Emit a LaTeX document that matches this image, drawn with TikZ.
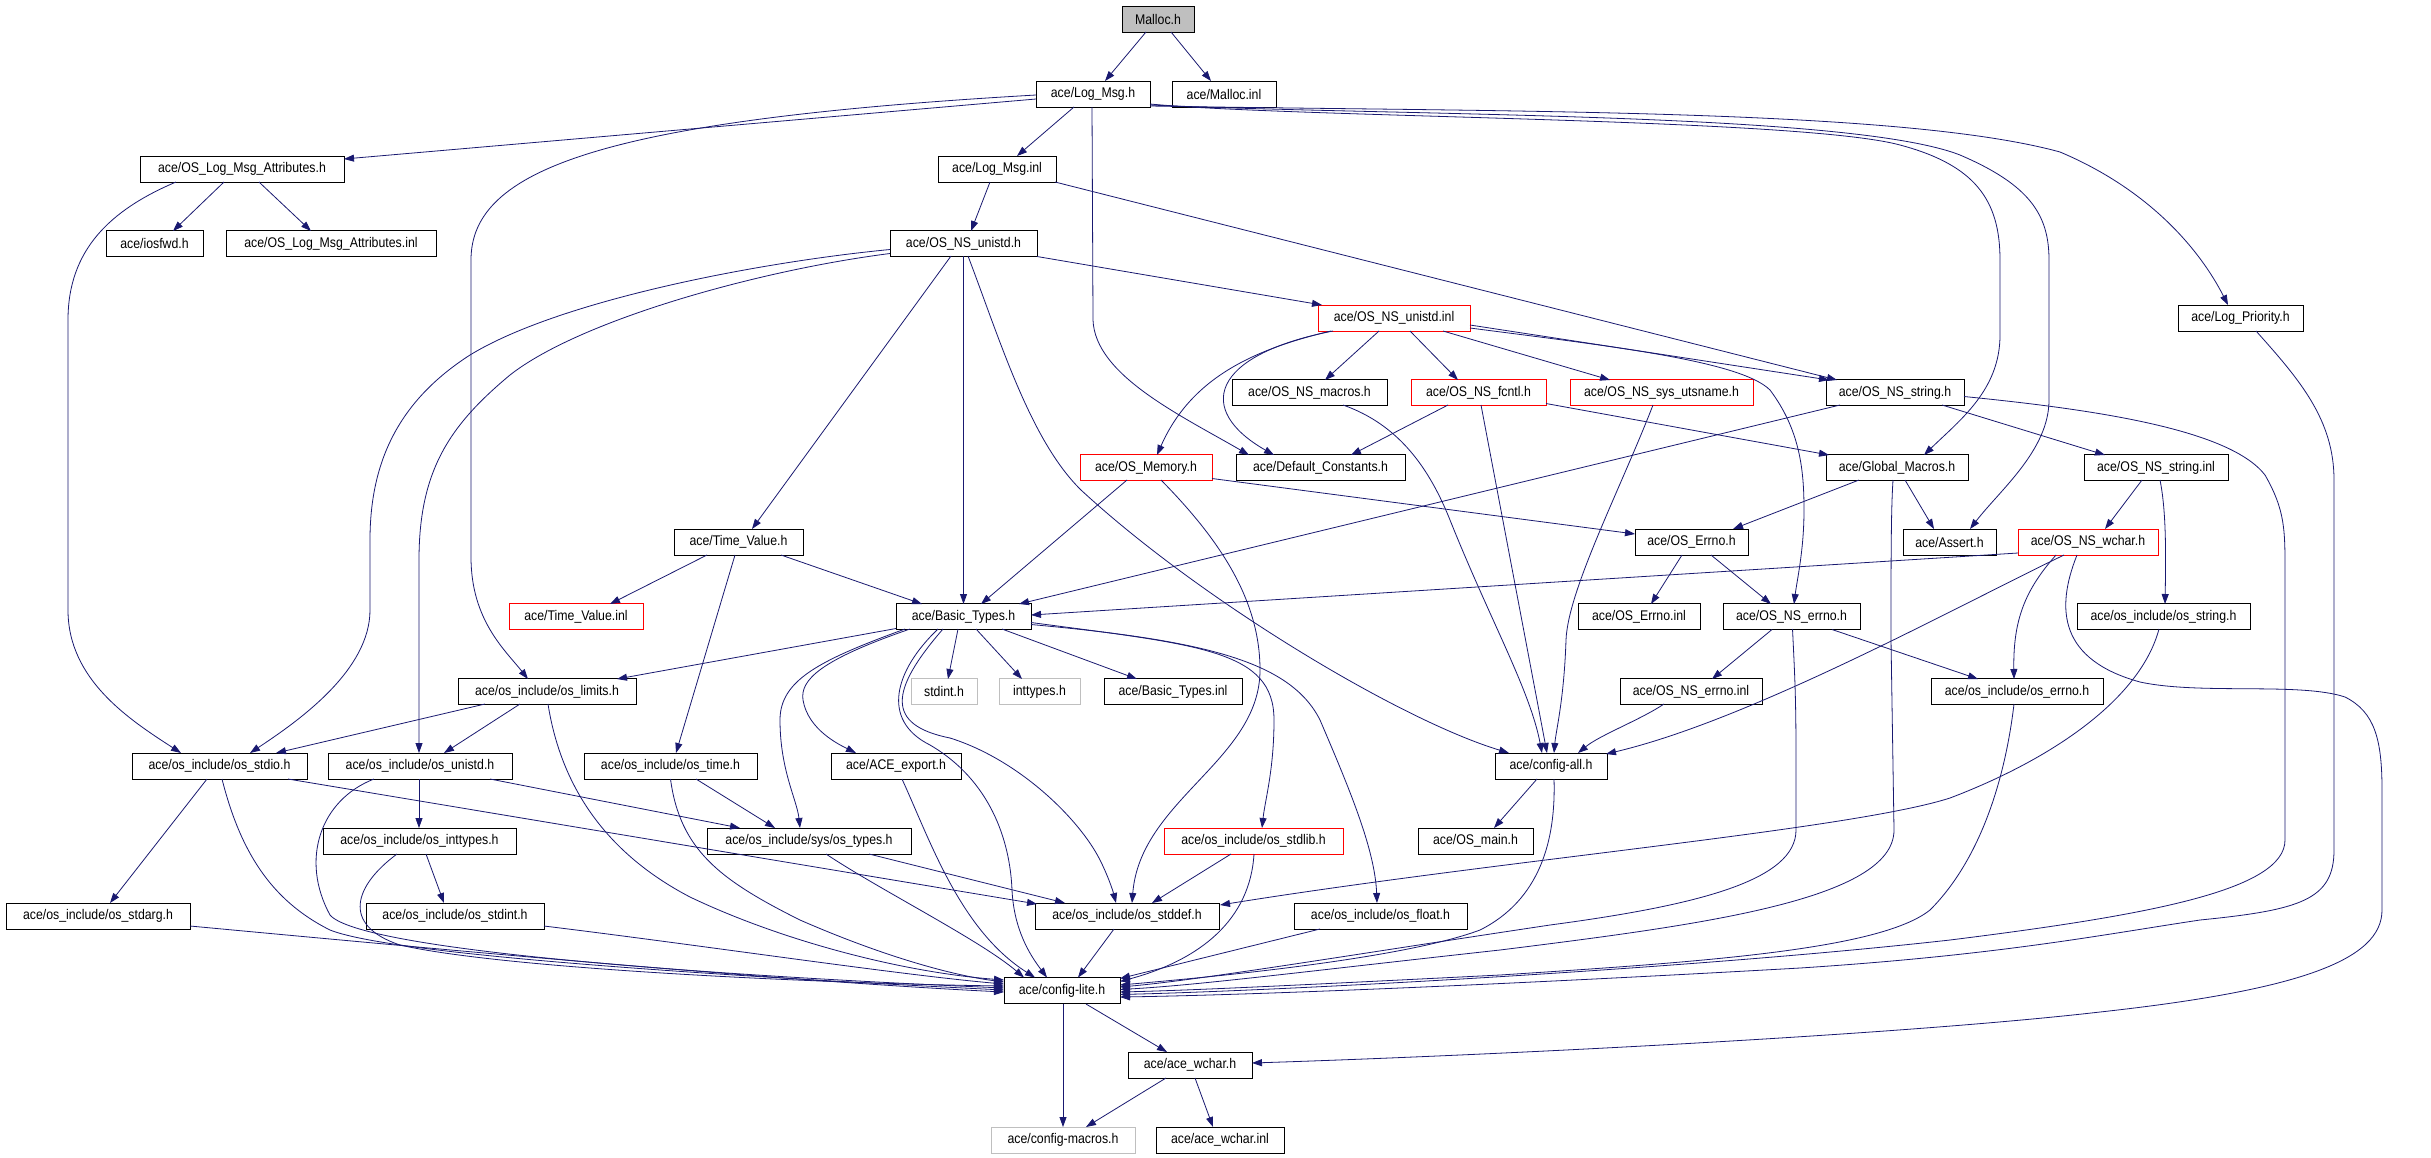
\documentclass[tikz,border=0pt]{standalone}
\usepackage{fontspec}
\setmainfont{Liberation Sans}[FakeStretch=0.88]
\usetikzlibrary{arrows.meta,calc}
\definecolor{edgecol}{HTML}{191970}
\definecolor{grayfill}{HTML}{BFBFBF}
\begin{document}
\begin{tikzpicture}[x=1pt,y=-1pt,
  box/.style={draw=black, line width=1pt, fill=white, inner sep=0pt, minimum height=26pt, font=\fontsize{14}{16}\selectfont},
  redbox/.style={box, draw=red},
  graybox/.style={box, draw=grayfill},
  rootbox/.style={box, fill=grayfill},
  edge/.style={draw=edgecol, line width=0.8pt, -{Triangle[length=10pt,width=7pt]}}]
\fill[white] (0,0) rectangle (2431,1157);
\useasboundingbox (0,0) rectangle (2431,1157);
% nodes
\node[rootbox, minimum width=72pt] (malloc) at (1158,19.5) {Malloc.h};
\node[box, minimum width=114pt] (logmsg) at (1093,94) {ace/Log\_Msg.h};
\node[box, minimum width=104pt] (mallocinl) at (1224,94) {ace/Malloc.inl};
\node[box, minimum width=204pt] (oslma) at (242,169) {ace/OS\_Log\_Msg\_Attributes.h};
\node[box, minimum width=118pt] (logmsginl) at (997,169) {ace/Log\_Msg.inl};
\node[box, minimum width=97pt] (iosfwd) at (154.5,243.5) {ace/iosfwd.h};
\node[box, minimum width=210pt] (oslmainl) at (331,243.5) {ace/OS\_Log\_Msg\_Attributes.inl};
\node[box, minimum width=147pt] (osnsunistd) at (963.5,243.5) {ace/OS\_NS\_unistd.h};
\node[redbox, minimum width=152pt] (osnsunistdinl) at (1394,318) {ace/OS\_NS\_unistd.inl};
\node[box, minimum width=125pt] (logprio) at (2240.5,318) {ace/Log\_Priority.h};
\node[box, minimum width=155pt] (osnsmacros) at (1309.5,392.5) {ace/OS\_NS\_macros.h};
\node[redbox, minimum width=135pt] (osnsfcntl) at (1478.5,392.5) {ace/OS\_NS\_fcntl.h};
\node[redbox, minimum width=183pt] (osnsutsname) at (1661.5,392.5) {ace/OS\_NS\_sys\_utsname.h};
\node[box, minimum width=138pt] (osnsstring) at (1895,392.5) {ace/OS\_NS\_string.h};
\node[redbox, minimum width=132pt] (osmemory) at (1146,467.5) {ace/OS\_Memory.h};
\node[box, minimum width=169pt] (defconst) at (1320.5,467.5) {ace/Default\_Constants.h};
\node[box, minimum width=142pt] (globalmacros) at (1897,467.5) {ace/Global\_Macros.h};
\node[box, minimum width=144pt] (osnsstringinl) at (2156,467.5) {ace/OS\_NS\_string.inl};
\node[box, minimum width=129pt] (timevalue) at (738.5,542) {ace/Time\_Value.h};
\node[box, minimum width=113pt] (oserrno) at (1691.5,542) {ace/OS\_Errno.h};
\node[box, minimum width=93pt] (assert) at (1949.5,542) {ace/Assert.h};
\node[redbox, minimum width=140pt] (osnswchar) at (2088,542) {ace/OS\_NS\_wchar.h};
\node[redbox, minimum width=134pt] (timevalueinl) at (576,616.5) {ace/Time\_Value.inl};
\node[box, minimum width=135pt] (basictypes) at (963.5,616.5) {ace/Basic\_Types.h};
\node[box, minimum width=122pt] (oserrnoinl) at (1639,616.5) {ace/OS\_Errno.inl};
\node[box, minimum width=137pt] (osnserrno) at (1791.5,616.5) {ace/OS\_NS\_errno.h};
\node[box, minimum width=173pt] (osstring) at (2163.5,616.5) {ace/os\_include/os\_string.h};
\node[box, minimum width=178pt] (oslimits) at (547,691.5) {ace/os\_include/os\_limits.h};
\node[graybox, minimum width=66pt] (stdint) at (944,691.5) {stdint.h};
\node[graybox, minimum width=81pt] (inttypes) at (1039.5,691.5) {inttypes.h};
\node[box, minimum width=138pt] (basictypesinl) at (1173,691.5) {ace/Basic\_Types.inl};
\node[box, minimum width=142pt] (osnserrnoinl) at (1691,691.5) {ace/OS\_NS\_errno.inl};
\node[box, minimum width=172pt] (oserrnoh) at (2017,691.5) {ace/os\_include/os\_errno.h};
\node[box, minimum width=175pt] (osstdio) at (219.5,766) {ace/os\_include/os\_stdio.h};
\node[box, minimum width=184pt] (osunistd) at (420,766) {ace/os\_include/os\_unistd.h};
\node[box, minimum width=173pt] (ostime) at (670.5,766) {ace/os\_include/os\_time.h};
\node[box, minimum width=130pt] (aceexport) at (896,766) {ace/ACE\_export.h};
\node[box, minimum width=112pt] (configall) at (1551,766) {ace/config-all.h};
\node[box, minimum width=193pt] (osinttypes) at (419.5,841) {ace/os\_include/os\_inttypes.h};
\node[box, minimum width=204pt] (ostypes) at (809,841) {ace/os\_include/sys/os\_types.h};
\node[redbox, minimum width=179pt] (osstdlib) at (1253.5,841) {ace/os\_include/os\_stdlib.h};
\node[box, minimum width=115pt] (osmain) at (1475.5,841) {ace/OS\_main.h};
\node[box, minimum width=184pt] (osstdarg) at (98,916) {ace/os\_include/os\_stdarg.h};
\node[box, minimum width=178pt] (osstdint) at (455,916) {ace/os\_include/os\_stdint.h};
\node[box, minimum width=184pt] (osstddef) at (1127,916) {ace/os\_include/os\_stddef.h};
\node[box, minimum width=173pt] (osfloat) at (1380.5,916) {ace/os\_include/os\_float.h};
\node[box, minimum width=116pt] (configlite) at (1062,990.5) {ace/config-lite.h};
\node[box, minimum width=124pt] (acewchar) at (1190,1065) {ace/ace\_wchar.h};
\node[graybox, minimum width=144pt] (configmacros) at (1063,1140) {ace/config-macros.h};
\node[box, minimum width=128pt] (acewcharinl) at (1220,1140) {ace/ace\_wchar.inl};
% edges
\draw[edge] ($(malloc)+(-12,12.5)$) -- ($(logmsg)+(12,-13)$);
\draw[edge] ($(malloc)+(13,12.5)$) -- ($(mallocinl)+(-13,-13)$);
\draw[edge] ($(logmsg)+(-57,5)$) -- ($(oslma)+(102,-10)$);
\draw[edge] ($(logmsg)+(-19,13)$) -- ($(logmsginl)+(20,-13)$);
\draw[edge] ($(logmsg)+(-57,1)$) .. controls (600,120) and (471,170) .. (471,260) -- (471,557) .. controls (471,620) and (505,650) .. ($(oslimits)+(-19,-12.5)$);
\draw[edge] ($(logmsg)+(-1,13)$) -- (1093,320) .. controls (1095,375) and (1180,415) .. ($(defconst)+(-71.5,-12.5)$);
\draw[edge] ($(logmsg)+(57,10)$) .. controls (1300,118) and (1800,118) .. (1900,145) .. controls (1975,165) and (2000,200) .. (2000,260) -- (2000,335) .. controls (2000,390) and (1960,420) .. ($(globalmacros)+(27,-12.5)$);
\draw[edge] ($(logmsg)+(57,11)$) .. controls (1400,116) and (1850,112) .. (1960,155) .. controls (2030,185) and (2049,215) .. (2049,260) -- (2049,400) .. controls (2049,450) and (2000,490) .. ($(assert)+(20.5,-13)$);
\draw[edge] ($(logmsg)+(57,12)$) .. controls (1500,112) and (1900,108) .. (2060,152) .. controls (2150,190) and (2200,250) .. ($(logprio)+(-12.5,-13)$);
\draw[edge] ($(logmsginl)+(-7,13)$) -- ($(osnsunistd)+(7.5,-12.5)$);
\draw[edge] ($(logmsginl)+(58,13)$) -- ($(osnsstring)+(-58,-12.5)$);
\draw[edge] ($(osnsunistd)+(73.5,13)$) -- ($(osnsunistdinl)+(-72,-13)$);
\draw[edge] ($(osnsunistd)+(-73.5,6)$) .. controls (760,262) and (560,300) .. (470,355) .. controls (400,400) and (370,460) .. (370,540) -- (370,610) .. controls (370,670) and (300,720) .. ($(osstdio)+(30.5,-13)$);
\draw[edge] ($(osnsunistd)+(-73.5,10)$) .. controls (760,270) and (580,320) .. (510,375) .. controls (450,425) and (419,470) .. (419,560) -- ($(osunistd)+(-1,-13)$);
\draw[edge] ($(osnsunistd)+(-12.5,12.5)$) -- ($(timevalue)+(13.5,-13)$);
\draw[edge] ($(osnsunistd)+(0,12.5)$) -- ($(basictypes)+(0,-12.5)$);
\draw[edge] ($(osnsunistd)+(4.5,12.5)$) .. controls (1000,340) and (1030,440) .. (1081,490) .. controls (1200,600) and (1400,720) .. ($(configall)+(-42,-13)$);
\draw[edge] ($(osnsunistdinl)+(-63,13)$) .. controls (1250,350) and (1190,380) .. ($(osmemory)+(11,-12.5)$);
\draw[edge] ($(osnsunistdinl)+(-61,13)$) .. controls (1210,355) and (1195,410) .. ($(defconst)+(-46.5,-12.5)$);
\draw[edge] ($(osnsunistdinl)+(-15,13)$) -- ($(osnsmacros)+(15.5,-12.5)$);
\draw[edge] ($(osnsunistdinl)+(16,13)$) -- ($(osnsfcntl)+(-20.5,-12.5)$);
\draw[edge] ($(osnsunistdinl)+(49,13)$) -- ($(osnsutsname)+(-51.5,-12.5)$);
\draw[edge] ($(osnsunistdinl)+(76,7)$) -- ($(osnsstring)+(-66,-12.5)$);
\draw[edge] ($(osnsunistdinl)+(76,10)$) .. controls (1600,345) and (1740,360) .. (1770,390) .. controls (1800,430) and (1804,470) .. (1804,510) .. controls (1804,550) and (1797,580) .. ($(osnserrno)+(2.5,-12.5)$);
\draw[edge] ($(osnsfcntl)+(-30.5,12.5)$) -- ($(defconst)+(30.5,-12.5)$);
\draw[edge] ($(osnsfcntl)+(2.5,12.5)$) -- ($(configall)+(-4,-13)$);
\draw[edge] ($(osnsfcntl)+(67.5,11)$) -- ($(globalmacros)+(-68,-12.5)$);
\draw[edge] ($(osnsmacros)+(33.5,12.5)$) .. controls (1400,425) and (1430,470) .. (1450,520) .. controls (1490,620) and (1530,690) .. ($(configall)+(-9,-13)$);
\draw[edge] ($(osnsutsname)+(-8.5,12.5)$) .. controls (1620,490) and (1568,590) .. (1566,640) .. controls (1564,700) and (1556,730) .. ($(configall)+(3,-13)$);
\draw[edge] ($(osnsstring)+(-55,12.5)$) -- ($(basictypes)+(55.5,-12.5)$);
\draw[edge] ($(osnsstring)+(47,12.5)$) -- ($(osnsstringinl)+(-51,-12.5)$);
\draw[edge] ($(osnsstring)+(69,4)$) .. controls (2100,410) and (2230,430) .. (2265,475) .. controls (2285,510) and (2285,530) .. (2285,570) -- (2285,840) .. controls (2285,890) and (2150,915) .. (1950,940) .. controls (1700,968) and (1300,990) .. ($(configlite)+(58,4)$);
\draw[edge] ($(osmemory)+(-19,12.5)$) -- ($(basictypes)+(17.5,-12.5)$);
\draw[edge] ($(osmemory)+(15,12.5)$) .. controls (1220,540) and (1260,600) .. (1260,670) .. controls (1260,760) and (1140,800) .. ($(osstddef)+(5,-13)$);
\draw[edge] ($(osmemory)+(66,11)$) -- ($(oserrno)+(-56.5,-8)$);
\draw[edge] ($(globalmacros)+(-38,12.5)$) -- ($(oserrno)+(41.5,-13)$);
\draw[edge] ($(globalmacros)+(8,12.5)$) -- ($(assert)+(-15.5,-13)$);
\draw[edge] ($(globalmacros)+(-4,12.5)$) .. controls (1891,510) and (1891,560) .. (1891,640) -- (1894,830) .. controls (1894,900) and (1700,925) .. (1500,950) .. controls (1300,972) and (1200,985) .. ($(configlite)+(58,-1)$);
\draw[edge] ($(osnsstringinl)+(-14,12.5)$) -- ($(osnswchar)+(17,-13)$);
\draw[edge] ($(osnsstringinl)+(4,12.5)$) .. controls (2166,510) and (2166,550) .. ($(osstring)+(1.5,-12.5)$);
\draw[edge] ($(timevalue)+(-31.5,13)$) -- ($(timevalueinl)+(34,-12.5)$);
\draw[edge] ($(timevalue)+(-3.5,13)$) -- ($(ostime)+(5.5,-13)$);
\draw[edge] ($(timevalue)+(42.5,13)$) -- ($(basictypes)+(-41.5,-12.5)$);
\draw[edge] ($(oserrno)+(-9.5,13)$) -- ($(oserrnoinl)+(12,-12.5)$);
\draw[edge] ($(oserrno)+(19.5,13)$) -- ($(osnserrno)+(-20.5,-12.5)$);
\draw[edge] ($(osnswchar)+(-70,11)$) -- ($(basictypes)+(67.5,-1.5)$);
\draw[edge] ($(osnswchar)+(-24,13)$) .. controls (1950,610) and (1750,720) .. ($(configall)+(55,-12)$);
\draw[edge] ($(osnswchar)+(-32,13)$) .. controls (2025,590) and (2013,620) .. ($(oserrnoh)+(-3,-12.5)$);
\draw[edge] ($(osnswchar)+(-11,13)$) .. controls (2055,610) and (2060,660) .. (2140,682) .. controls (2200,695) and (2300,682) .. (2345,697) .. controls (2375,712) and (2382,740) .. (2382,790) -- (2382,910) .. controls (2382,960) and (2300,990) .. (2100,1012) .. controls (1900,1035) and (1500,1055) .. ($(acewchar)+(62,-2)$);
\draw[edge] ($(osstring)+(-4.5,12.5)$) .. controls (2140,700) and (2050,760) .. (1950,798) .. controls (1850,830) and (1500,860) .. ($(osstddef)+(93,-11)$);
\draw[edge] ($(osnserrno)+(-19.5,13)$) -- ($(osnserrnoinl)+(21,-12.5)$);
\draw[edge] ($(osnserrno)+(40.5,13)$) -- ($(oserrnoh)+(-39,-12.5)$);
\draw[edge] ($(osnserrno)+(1,12.5)$) .. controls (1795,680) and (1796,700) .. (1796,760) -- (1796,830) .. controls (1796,880) and (1700,905) .. (1550,925) .. controls (1350,955) and (1200,980) .. ($(configlite)+(58,-3.5)$);
\draw[edge] ($(osnserrnoinl)+(-27,12.5)$) .. controls (1640,720) and (1600,735) .. ($(configall)+(27,-13)$);
\draw[edge] ($(oserrnoh)+(-3,12.5)$) .. controls (2005,780) and (1980,860) .. (1930,910) .. controls (1880,950) and (1700,962) .. (1500,975) .. controls (1300,985) and (1200,990) .. ($(configlite)+(58,1.5)$);
\draw[edge] ($(logprio)+(15.5,13)$) .. controls (2300,380) and (2334,420) .. (2334,480) -- (2334,850) .. controls (2334,900) and (2300,910) .. (2200,920) .. controls (2100,935) and (2000,955) .. (1800,968) .. controls (1500,985) and (1250,995) .. ($(configlite)+(58,6.5)$);
\draw[edge] ($(configall)+(-14,13)$) -- ($(osmain)+(18.5,-13)$);
\draw[edge] ($(configall)+(3,13)$) .. controls (1556,840) and (1540,900) .. (1480,930) .. controls (1400,960) and (1200,978) .. ($(configlite)+(58,-5.5)$);
\draw[edge] ($(osstdlib)+(-22.5,13)$) -- ($(osstddef)+(25,-13)$);
\draw[edge] ($(osstdlib)+(0.5,13)$) .. controls (1250,920) and (1200,960) .. ($(configlite)+(58,-9)$);
\draw[edge] ($(osfloat)+(-60.5,13)$) -- ($(configlite)+(58,-12)$);
\draw[edge] ($(osstddef)+(-13,13)$) -- ($(configlite)+(16,-13)$);
\draw[edge] ($(ostypes)+(60,13)$) -- ($(osstddef)+(-62,-13)$);
\draw[edge] ($(ostypes)+(17,13)$) .. controls (880,890) and (980,940) .. ($(configlite)+(-38,-13)$);
\draw[edge] ($(aceexport)+(6,13)$) .. controls (930,840) and (960,930) .. ($(configlite)+(-27,-13)$);
\draw[edge] ($(basictypes)+(-67.5,12)$) -- ($(oslimits)+(70,-12.5)$);
\draw[edge] ($(basictypes)+(-5.5,12.5)$) -- ($(stdint)+(4,-12.5)$);
\draw[edge] ($(basictypes)+(12.5,12.5)$) -- ($(inttypes)+(-17.5,-12.5)$);
\draw[edge] ($(basictypes)+(38.5,12.5)$) -- ($(basictypesinl)+(-36,-12.5)$);
\draw[edge] ($(basictypes)+(-53.5,12.5)$) .. controls (820,660) and (800,680) .. (803,700) .. controls (808,730) and (840,745) .. ($(aceexport)+(-40,-13)$);
\draw[edge] ($(basictypes)+(-58.5,12.5)$) .. controls (820,660) and (780,680) .. (780,720) .. controls (780,770) and (797,800) .. ($(ostypes)+(-9,-13)$);
\draw[edge] ($(basictypes)+(-25.5,12.5)$) .. controls (895,670) and (880,720) .. (930,745) .. controls (990,780) and (1010,840) .. (1012,890) .. controls (1014,930) and (1030,955) .. ($(configlite)+(-15,-13)$);
\draw[edge] ($(basictypes)+(-20.5,12.5)$) .. controls (890,690) and (885,725) .. (950,738) .. controls (1020,760) and (1080,820) .. (1100,860) .. controls (1110,880) and (1114,895) .. ($(osstddef)+(-11,-13)$);
\draw[edge] ($(basictypes)+(67.5,6)$) .. controls (1200,645) and (1274,650) .. (1274,720) .. controls (1274,770) and (1265,800) .. ($(osstdlib)+(8.5,-13)$);
\draw[edge] ($(basictypes)+(67.5,8)$) .. controls (1200,640) and (1290,660) .. (1320,720) .. controls (1350,790) and (1375,850) .. ($(osfloat)+(-3.5,-13)$);
\draw[edge] ($(oslimits)+(-62,12.5)$) -- ($(osstdio)+(56.5,-13)$);
\draw[edge] ($(oslimits)+(-27,12.5)$) -- ($(osunistd)+(24,-13)$);
\draw[edge] ($(oslimits)+(1,12.5)$) .. controls (560,780) and (600,850) .. (690,897) .. controls (780,940) and (900,972) .. ($(configlite)+(-58,-10.5)$);
\draw[edge] ($(oslma)+(-18,13)$) -- ($(iosfwd)+(18.5,-12.5)$);
\draw[edge] ($(oslma)+(17,13)$) -- ($(oslmainl)+(-20,-12.5)$);
\draw[edge] ($(oslma)+(-66,13)$) .. controls (110,210) and (68,250) .. (68,320) -- (68,610) .. controls (68,680) and (130,720) .. ($(osstdio)+(-38.5,-13)$);
\draw[edge] ($(osstdio)+(-12.5,13)$) -- ($(osstdarg)+(12,-13)$);
\draw[edge] ($(osstdio)+(68.5,13)$) -- ($(osstddef)+(-90,-12)$);
\draw[edge] ($(osstdio)+(2.5,13)$) .. controls (240,850) and (270,900) .. (330,930) .. controls (400,958) and (800,980) .. ($(configlite)+(-58,-0.5)$);
\draw[edge] ($(osunistd)+(-1,13)$) -- ($(osinttypes)+(-0.5,-13)$);
\draw[edge] ($(osunistd)+(70,13)$) -- ($(ostypes)+(-69,-13)$);
\draw[edge] ($(osunistd)+(-46,13)$) .. controls (320,800) and (300,860) .. (330,915) .. controls (360,950) and (700,975) .. ($(configlite)+(-58,-2.5)$);
\draw[edge] ($(osinttypes)+(6.5,13)$) -- ($(osstdint)+(-11,-13)$);
\draw[edge] ($(osinttypes)+(-22.5,13)$) .. controls (355,885) and (340,925) .. (400,945) .. controls (500,968) and (800,983) .. ($(configlite)+(-58,-4.5)$);
\draw[edge] ($(osstdarg)+(92,10)$) .. controls (500,955) and (800,982) .. ($(configlite)+(-58,1.5)$);
\draw[edge] ($(osstdint)+(89,10)$) .. controls (700,945) and (900,975) .. ($(configlite)+(-58,-6.5)$);
\draw[edge] ($(ostime)+(25.5,13)$) -- ($(ostypes)+(-34,-13)$);
\draw[edge] ($(ostime)+(0,13)$) .. controls (680,850) and (720,880) .. (800,920) .. controls (880,955) and (950,975) .. ($(configlite)+(-58,-8.5)$);
\draw[edge] ($(configlite)+(1,13.5)$) -- ($(configmacros)+(0,-13)$);
\draw[edge] ($(configlite)+(24,13.5)$) -- ($(acewchar)+(-23,-13)$);
\draw[edge] ($(acewchar)+(-24,13)$) -- ($(configmacros)+(23,-13)$);
\draw[edge] ($(acewchar)+(5,13)$) -- ($(acewcharinl)+(-7,-13)$);
\end{tikzpicture}
\end{document}
